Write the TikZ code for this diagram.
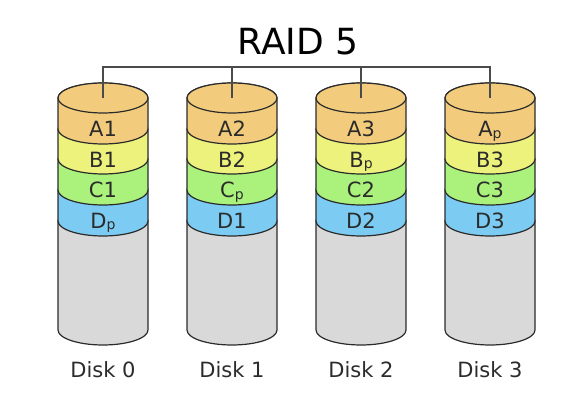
\documentclass[tikz,border=0pt]{standalone}
\usepackage{fontspec}
\setmainfont{DejaVu Sans}
\definecolor{cA}{HTML}{F2CC7C}
\definecolor{cB}{HTML}{EDF27C}
\definecolor{cC}{HTML}{ABF27C}
\definecolor{cD}{HTML}{7CCBF2}
\definecolor{cE}{HTML}{D9D9D9}
\definecolor{ink}{HTML}{2B2B2B}
\newcommand\parsub[1]{\raisebox{-1.5pt}{\fontsize{14}{14}\selectfont #1}}
\begin{document}
\begin{tikzpicture}[x=1pt,y=1pt,
  outline/.style={draw=ink,line width=1.2pt,line join=round},
  wire/.style={draw=ink!85,line width=1.3pt},
  cell/.style={anchor=base,font=\fontsize{21}{21}\selectfont,text=ink,inner sep=0pt},
  disklabel/.style={anchor=base,font=\fontsize{21}{21}\selectfont,text=ink,inner sep=0pt},
  titlelabel/.style={anchor=base,font=\fontsize{36}{36}\selectfont,text=black,inner sep=0pt}]
\useasboundingbox (0,0) rectangle (588,403);
\node[titlelabel] (title) at (298,348) {RAID 5};
% segment helper: #1 cx, #2 top, #3 bottom, #4 colour
\newcommand\segm[4]{%
  \path[outline,fill=#4] (#1-45,#2) -- (#1-45,#3) arc[start angle=180,end angle=360,x radius=45pt,y radius=15pt]
    -- (#1+45,#2) arc[start angle=0,end angle=180,x radius=45pt,y radius=15pt] -- cycle;}
\foreach \cx/\i/\a/\b/\c/\d in {103/0/A1/B1/C1/D\parsub{p},232/1/A2/B2/C\parsub{p}/D1,361/2/A3/B\parsub{p}/C2/D2,490/3/A\parsub{p}/B3/C3/D3}{
  \segm{\cx}{182}{73}{cE}
  \segm{\cx}{213}{182}{cD}
  \segm{\cx}{244}{213}{cC}
  \segm{\cx}{274}{244}{cB}
  \segm{\cx}{305}{274}{cA}
  \path[outline,fill=cA] (\cx,305) ellipse[x radius=45pt,y radius=15pt];
  \coordinate (top\i) at (\cx,305);
  \coordinate (j\i) at (\cx,336);
  \node[cell] (a\i) at (\cx,266) {\a};
  \node[cell] (b\i) at (\cx,235.5) {\b};
  \node[cell] (c\i) at (\cx,205) {\c};
  \node[cell] (d\i) at (\cx,174.5) {\d};
  \node[disklabel] (disk\i) at (\cx,25) {Disk \i};
}
\draw[wire] (top0) -- (j0) -- (j3) -- (top3);
\draw[wire] (j1) -- (top1);
\draw[wire] (j2) -- (top2);
\end{tikzpicture}
\end{document}
